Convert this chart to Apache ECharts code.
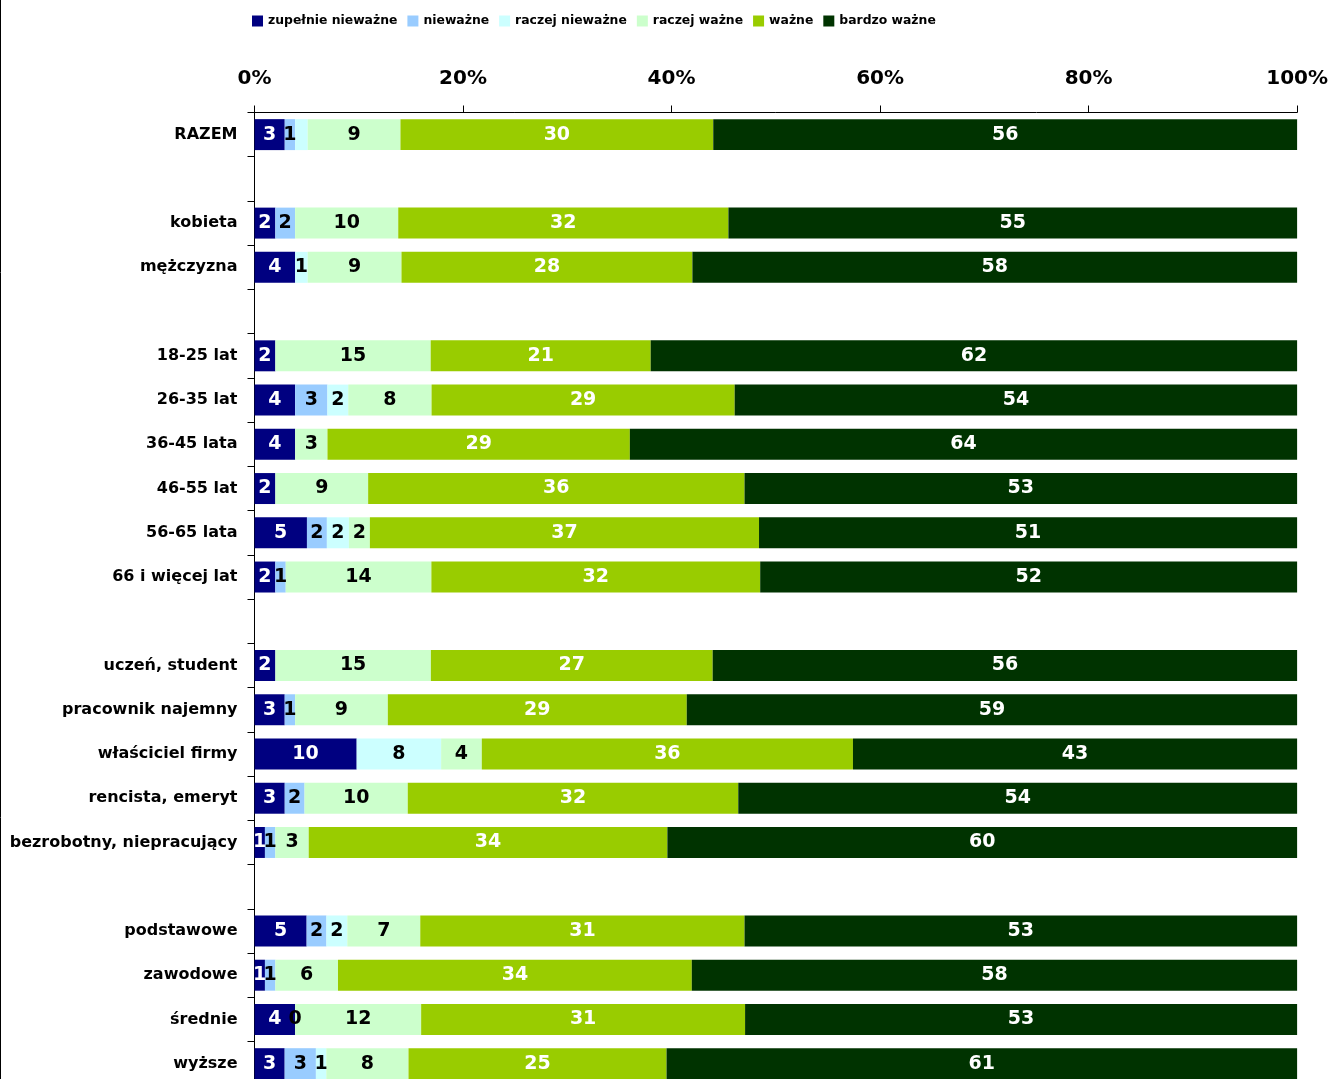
<!DOCTYPE html>
<html>
<head>
<meta charset="utf-8">
<script src="https://cdn.jsdelivr.net/npm/echarts@6/dist/echarts.min.js"></script>
<style>
html,body{margin:0;padding:0;background:#fff;overflow:hidden;}
#chart{width:1331px;height:1090px;}
</style>
</head>
<body>
<div id="chart"></div>
<script>
const categories = ['RAZEM', '', 'kobieta', 'mężczyzna', '', '18-25 lat', '26-35 lat', '36-45 lata', '46-55 lat', '56-65 lata', '66 i więcej lat', '', 'uczeń, student', 'pracownik najemny', 'właściciel firmy', 'rencista, emeryt', 'bezrobotny, niepracujący', '', 'podstawowe', 'zawodowe', 'średnie', 'wyższe'];
const seriesNames = ['zupełnie nieważne', 'nieważne', 'raczej nieważne', 'raczej ważne', 'ważne', 'bardzo ważne'];
const zupelnieNiewazne = [2.9, null, 2.0, 3.9, null, 2.0, 3.9, 3.9, 2.0, 5.0, 2.0, null, 2.0, 2.9, 9.8, 2.9, 1.0, null, 5.0, 1.0, 3.9, 2.9];
const niewazne = [1.0, null, 1.9, null, null, null, 3.1, null, null, 1.9, 1.0, null, null, 1.0, null, 1.9, 1.0, null, 1.9, 1.0, 0, 3.0];
const raczejNiewazne = [1.2, null, null, 1.2, null, null, 2.0, null, null, 2.1, null, null, null, null, 8.1, null, null, null, 2.0, null, null, 1.0];
const raczejWazne = [8.9, null, 9.9, 9.0, null, 14.9, 8.0, 3.1, 8.9, 2.0, 14.0, null, 14.9, 8.9, 3.9, 9.9, 3.2, null, 7.0, 6.0, 12.1, 7.9];
const wazne = [30.0, null, 31.7, 27.9, null, 21.1, 29.1, 29.0, 36.1, 37.1, 31.6, null, 27.0, 28.7, 35.6, 31.7, 34.4, null, 31.1, 33.9, 31.1, 24.8];
const bardzoWazne = [56.0, null, 54.6, 58.0, null, 62.0, 54.0, 64.0, 53.0, 51.3, 51.6, null, 56.0, 58.6, 42.6, 53.6, 60.4, null, 53.0, 58.0, 53.0, 60.6];
const xTicks = [0, 20, 40, 60, 80, 100];
// labels not displayed in the original: [seriesIndex, rowIndex]
const hiddenLabels = [[2, 0]];

const allSeries = [zupelnieNiewazne, niewazne, raczejNiewazne, raczejWazne, wazne, bardzoWazne];
const colors = ['#000080', '#99CCFF', '#CCFFFF', '#CCFFCC', '#99CC00', '#003300'];
const labelColors = ['#ffffff', '#000000', '#000000', '#000000', '#ffffff', '#ffffff'];

const rowSums = categories.map((c, i) => allSeries.reduce((s, arr) => s + (arr[i] == null ? 0 : arr[i]), 0));

const series = allSeries.map((arr, si) => ({
  name: seriesNames[si],
  type: 'bar',
  stack: 'total',
  barCategoryGap: '30%',
  itemStyle: { color: colors[si] },
  emphasis: { disabled: true },
  label: {
    show: true,
    position: 'inside',
    color: labelColors[si],
    fontFamily: 'DejaVu Sans',
    fontWeight: 'bold',
    fontSize: 19,
    formatter: p => (p.data.raw == null || p.data.hidden) ? '' : String(Math.round(p.data.raw))
  },
  data: arr.map((v, i) => ({
    value: v == null ? null : v / rowSums[i] * 100,
    raw: v,
    hidden: hiddenLabels.some(h => h[0] === si && h[1] === i)
  }))
}));

const chart = echarts.init(document.getElementById('chart'), null, { renderer: 'canvas' });
chart.setOption({
  animation: false,
  backgroundColor: '#ffffff',
  legend: {
    left: 252,
    top: 15,
    padding: 0,
    itemWidth: 11,
    itemHeight: 11,
    itemGap: 10,
    icon: 'rect',
    selectedMode: false,
    textStyle: { fontFamily: 'DejaVu Sans', fontWeight: 'bold', fontSize: 12.4, color: '#000' },
    data: seriesNames
  },
  grid: { left: 254.5, top: 112.5, width: 1043, height: 973.3, containLabel: false },
  xAxis: {
    type: 'value',
    position: 'top',
    min: xTicks[0],
    max: xTicks[xTicks.length - 1],
    interval: 20,
    axisLine: { show: true, lineStyle: { color: '#000', width: 1 } },
    axisTick: { show: true, length: 7, lineStyle: { color: '#000' } },
    splitLine: { show: false },
    axisLabel: {
      formatter: '{value}%',
      margin: 24,
      fontFamily: 'DejaVu Sans',
      fontWeight: 'bold',
      fontSize: 20,
      color: '#000'
    }
  },
  yAxis: {
    type: 'category',
    inverse: true,
    data: categories,
    axisLine: { show: true, lineStyle: { color: '#000', width: 1 } },
    axisTick: { show: true, length: 7, alignWithLabel: false, lineStyle: { color: '#000' } },
    axisLabel: {
      margin: 17,
      fontFamily: 'DejaVu Sans',
      fontWeight: 'bold',
      fontSize: 16,
      color: '#000',
      interval: 0
    }
  },
  graphic: [{
    type: 'line',
    shape: { x1: 0.5, y1: 0, x2: 0.5, y2: 1090 },
    style: { stroke: '#000', lineWidth: 1 }
  }],
  series: series
});
</script>
</body>
</html>
